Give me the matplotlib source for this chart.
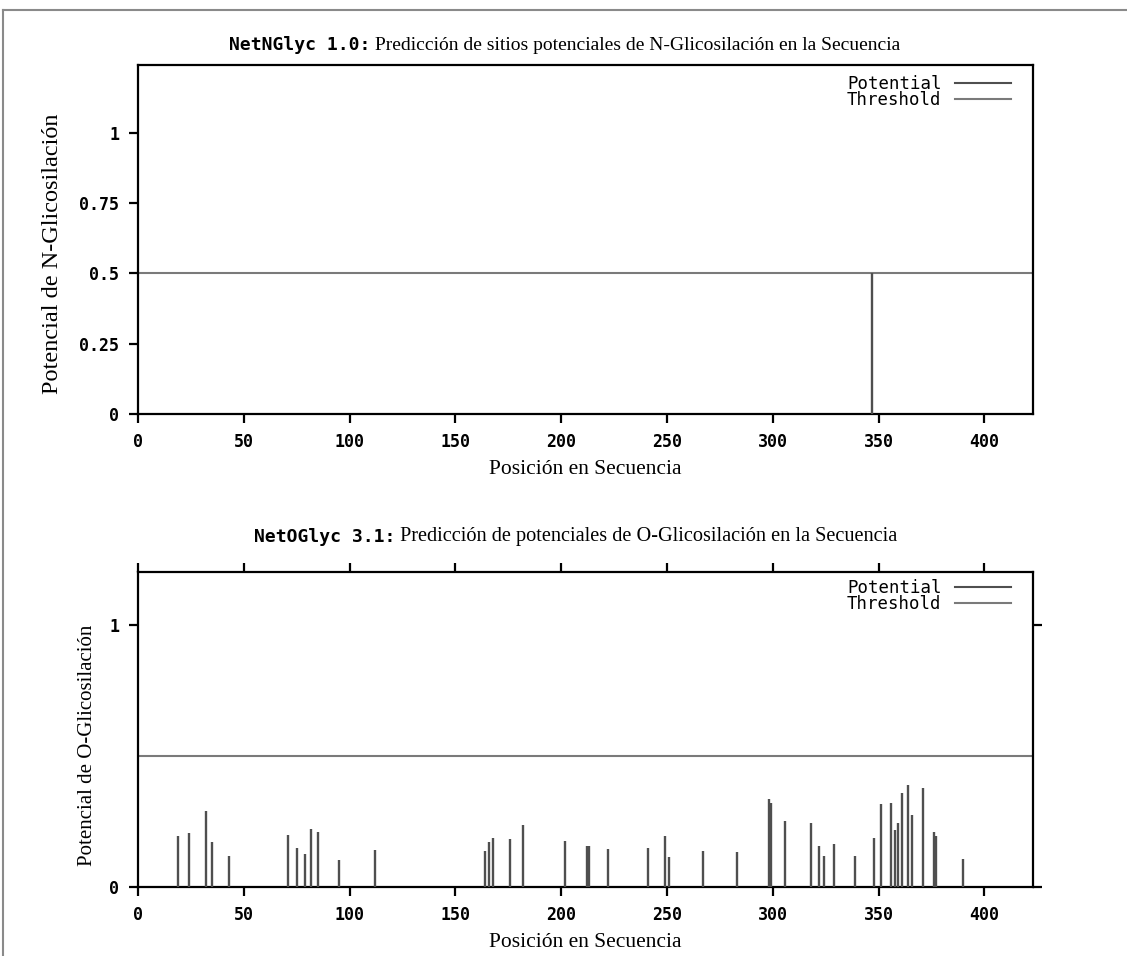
import matplotlib
matplotlib.use("Agg")
import matplotlib.pyplot as plt
from matplotlib.lines import Line2D

# Sequence length and threshold
seq_len = 423
threshold = 0.5

# N-glycosylation potential (position, score)
n_positions = [347]
n_scores = [0.5]

# O-glycosylation potential (position, score)
o_positions = [19, 24, 32, 35, 43, 71, 75, 79, 82, 85, 95, 112,
               164, 166, 168, 176, 182, 202, 212, 213, 222, 241, 249, 251,
               267, 283, 298, 299, 306, 318, 322, 324, 329, 339, 348, 351,
               356, 358, 359, 361, 364, 366, 371, 376, 377, 390]
o_scores = [0.193, 0.205, 0.289, 0.171, 0.119, 0.199, 0.148, 0.125, 0.221, 0.210, 0.104, 0.142,
            0.138, 0.171, 0.188, 0.183, 0.238, 0.176, 0.158, 0.158, 0.143, 0.148, 0.193, 0.114,
            0.138, 0.132, 0.337, 0.321, 0.252, 0.242, 0.157, 0.117, 0.162, 0.117, 0.185, 0.316,
            0.321, 0.219, 0.242, 0.360, 0.389, 0.275, 0.378, 0.208, 0.196, 0.106]

x_ticks = [0, 50, 100, 150, 200, 250, 300, 350, 400]
n_yticks = [0, 0.25, 0.5, 0.75, 1]
n_yticklabels = ["0", "0.25", "0.5", "0.75", "1"]
o_yticks = [0, 1]
o_yticklabels = ["0", "1"]

n_title_prog = "NetNGlyc 1.0:"
n_title_text = " Predicción de sitios potenciales de N-Glicosilación en la Secuencia"
o_title_prog = "NetOGlyc 3.1:"
o_title_text = " Predicción de potenciales de O-Glicosilación en la Secuencia"
x_label = "Posición en Secuencia"
n_ylabel = "Potencial de N-Glicosilación"
o_ylabel = "Potencial de O-Glicosilación"

MONO = "DejaVu Sans Mono"
SERIF = "Liberation Serif"
BAR_COLOR = "#4f4f4f"
THR_COLOR = "#7a7a7a"

W, H = 1127, 956
fig = plt.figure(figsize=(W / 100, H / 100), dpi=100)
fig.patch.set_facecolor("white")


def px_box(left, top, right, bottom):
    return [left / W, 1 - bottom / H, (right - left) / W, (bottom - top) / H]


def style_axes(ax, ylim, yticks, yticklabels, top_ticks, right_ticks):
    ax.set_xlim(0, seq_len)
    ax.set_ylim(*ylim)
    for s in ax.spines.values():
        s.set_linewidth(1.6)
        s.set_color("black")
    ax.set_xticks(x_ticks)
    ax.set_xticklabels([str(t) for t in x_ticks])
    ax.set_yticks(yticks)
    ax.set_yticklabels(yticklabels)
    ax.tick_params(axis="both", direction="out", length=6.5, width=1.6,
                   colors="black", labelsize=12)
    ax.tick_params(axis="x", pad=7)
    ax.tick_params(axis="y", pad=7)
    ax.tick_params(top=top_ticks, right=right_ticks)
    for lab in ax.get_xticklabels() + ax.get_yticklabels():
        lab.set_fontfamily(MONO)
        lab.set_fontweight("bold")


def add_legend(ax, anchor):
    handles = [Line2D([], [], color=BAR_COLOR, lw=1.5),
               Line2D([], [], color=THR_COLOR, lw=1.5)]
    leg = ax.legend(handles, ["Potential", "Threshold"], loc="upper right",
                    bbox_to_anchor=anchor, markerfirst=False, frameon=False,
                    handlelength=3.2, handletextpad=0.8, labelspacing=-0.12,
                    borderpad=0.0, borderaxespad=0.0, handleheight=0.5,
                    prop={"family": MONO, "size": 12.5})
    return leg


def draw_panel(box, positions, scores, ylim, yticks, yticklabels, ylabel,
               ylabel_size, ylabel_xy, legend_top_px, top_ticks, right_ticks):
    left, top, right, bottom = box
    ax = fig.add_axes(px_box(*box))
    ax.axhline(threshold, color=THR_COLOR, lw=1.5, zorder=2)
    ax.vlines(positions, 0, scores, colors=BAR_COLOR, lw=1.7, zorder=3)
    style_axes(ax, ylim, yticks, yticklabels, top_ticks, right_ticks)
    ax.set_xlabel(x_label, family=SERIF, fontsize=15.5, labelpad=7)
    ax.set_ylabel(ylabel, family=SERIF, fontsize=ylabel_size)
    ax.yaxis.set_label_coords(*ylabel_xy)
    anchor = ((1011 - left) / (right - left),
              (bottom - legend_top_px) / (bottom - top))
    add_legend(ax, anchor)
    return ax


ax1 = draw_panel((138, 65, 1033, 414), n_positions, n_scores, (0, 1.24),
                 n_yticks, n_yticklabels, n_ylabel, 17.5, (-0.084, 0.46),
                 75, False, False)
ax2 = draw_panel((138, 572, 1033, 887), o_positions, o_scores, (0, 1.2),
                 o_yticks, o_yticklabels, o_ylabel, 15, (-0.046, 0.45),
                 579, True, True)

# Titles: program name in monospace, description in serif
def title(split_px, y_px, prog, text, mono_size, serif_size):
    fig.text(split_px / W, 1 - y_px / H, prog, family=MONO, fontweight="bold",
             fontsize=mono_size, ha="right", va="center")
    fig.text(split_px / W, 1 - y_px / H, text, family=SERIF,
             fontsize=serif_size, ha="left", va="center")

title(370, 45, n_title_prog, n_title_text, 13, 14)
title(395, 537, o_title_prog, o_title_text, 13, 14.6)

# Outer frame (top and left edges)
fig.add_artist(Line2D([3 / W, 1], [1 - 10 / H, 1 - 10 / H],
                      transform=fig.transFigure, color="#8a8a8a", lw=1.5))
fig.add_artist(Line2D([3 / W, 3 / W], [0, 1 - 10 / H],
                      transform=fig.transFigure, color="#8a8a8a", lw=1.5))

fig.savefig("out.png", dpi=100)
